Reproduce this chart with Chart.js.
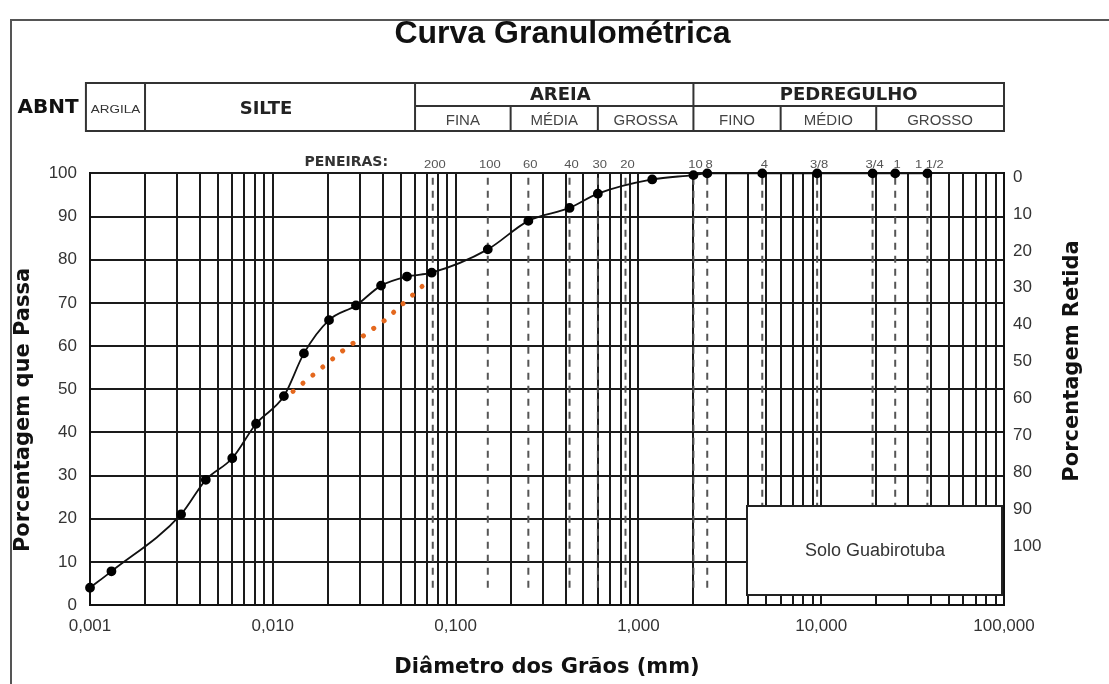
<!DOCTYPE html>
<html>
<head>
<meta charset="utf-8">
<title>Curva Granulométrica</title>
<script src="https://cdn.jsdelivr.net/npm/chart.js@4.4.1/dist/chart.umd.min.js"></script>
<style>
  html, body { margin: 0; padding: 0; background: #fff; }
  canvas { display: block; }
</style>
</head>
<body>
<canvas id="granChart" width="1109" height="684"></canvas>
<script>
// curva do Solo Guabirotuba (diametro em mm, % que passa)
const diametros = [0.001, 0.00131, 0.00315, 0.0043, 0.006, 0.0081, 0.0115, 0.0148, 0.0203, 0.0285,
                   0.0391, 0.0542, 0.074, 0.15, 0.25, 0.42, 0.6, 1.19, 2.0, 2.38, 4.76, 9.5, 19.1, 25.4, 38.1];
const passante = [4, 7.8, 21, 29, 34, 42, 48.4, 58.3, 66, 69.4,
                  74, 76.1, 77, 82.4, 89, 92, 95.3, 98.6, 99.6, 100, 100, 100, 100, 100, 100];

// trecho pontilhado (laranja)
const diametrosPontilhado = [0.0129, 0.0236, 0.0411, 0.0655];
const passantePontilhado = [49.5, 58.6, 66, 73.8];

// peneiras
const peneiras = ['200', '100', '60', '40', '30', '20', '10', '8', '4', '3/8', '3/4', '1', '1 1/2'];
const aberturas = [0.075, 0.15, 0.25, 0.42, 0.6, 0.85, 2.0, 2.38, 4.76, 9.5, 19.1, 25.4, 38.1];

// eixos
const decadas = [0.001, 0.01, 0.1, 1, 10, 100];
const rotulosX = ['0,001', '0,010', '0,100', '1,000', '10,000', '100,000'];
const ticksPassa = [0, 10, 20, 30, 40, 50, 60, 70, 80, 90, 100];
const ticksRetida = [0, 10, 20, 30, 40, 50, 60, 70, 80, 90, 100];

// classificacao ABNT
const classes = ['ARGILA', 'SILTE', 'AREIA', 'PEDREGULHO'];
const limitesClasses = [0.00095, 0.002, 0.06, 2, 100];
const subclasses = ['FINA', 'MÉDIA', 'GROSSA', 'FINO', 'MÉDIO', 'GROSSO'];
const limitesSub = [0.06, 0.2, 0.6, 2, 6, 20, 100];

const titulo = 'Curva Granulométrica';
const tituloX = 'Diâmetro dos Grãos (mm)';
const tituloY = 'Porcentagem que Passa';
const tituloY2 = 'Porcentagem Retida';
const nomeSolo = 'Solo Guabirotuba';

// linhas de grade 1..9 x 10^n
const linhasX = [];
for (let i = 0; i < decadas.length - 1; i++) {
    for (let k = 1; k <= 9; k++) linhasX.push(decadas[i] * k);
}
linhasX.push(decadas[decadas.length - 1]);

const VERDANA = "'DejaVu Sans', Verdana, sans-serif";
const ARIAL = "'Liberation Sans', Arial, sans-serif";

function textoEsticado(ctx, txt, x, y, fator) {
    ctx.save();
    ctx.translate(x, y);
    ctx.scale(fator, 1);
    ctx.fillText(txt, 0, 0);
    ctx.restore();
}

const desenhoExtra = {
    id: 'desenhoExtra',
    beforeDraw(chart) {
        const ctx = chart.ctx;
        ctx.save();
        ctx.strokeStyle = '#555';
        ctx.lineWidth = 2;
        ctx.beginPath();
        ctx.moveTo(11, chart.height);
        ctx.lineTo(11, 20);
        ctx.lineTo(chart.width, 20);
        ctx.stroke();
        ctx.restore();
    },
    beforeDatasetsDraw(chart) {
        const ctx = chart.ctx;
        const xs = chart.scales.x, ys = chart.scales.y;
        ctx.save();
        ctx.strokeStyle = '#555';
        ctx.lineWidth = 2;
        ctx.setLineDash([7, 6]);
        aberturas.forEach(a => {
            const px = xs.getPixelForValue(a);
            ctx.beginPath();
            ctx.moveTo(px, ys.getPixelForValue(99));
            ctx.lineTo(px, ys.getPixelForValue(3));
            ctx.stroke();
        });
        ctx.restore();
    },
    afterDraw(chart) {
        const ctx = chart.ctx;
        const xs = chart.scales.x;
        const area = chart.chartArea;
        const topo = 83, meio = 106, base = 131;
        ctx.save();

        // tabela ABNT
        ctx.strokeStyle = '#333';
        ctx.lineWidth = 2;
        const xl = limitesClasses.map(v => xs.getPixelForValue(v));
        const xsub = limitesSub.map(v => xs.getPixelForValue(v));
        ctx.strokeRect(xl[0], topo, xl[4] - xl[0], base - topo);
        ctx.beginPath();
        xl.slice(1, 4).forEach(px => { ctx.moveTo(px, topo); ctx.lineTo(px, base); });
        ctx.moveTo(xl[2], meio); ctx.lineTo(xl[4], meio);
        xsub.slice(1, 6).forEach(px => { ctx.moveTo(px, meio); ctx.lineTo(px, base); });
        ctx.stroke();

        ctx.textAlign = 'center';
        ctx.textBaseline = 'middle';
        ctx.fillStyle = '#111';
        ctx.font = 'bold 20px ' + VERDANA;
        ctx.fillText('ABNT', 48, 108);

        ctx.fillStyle = '#333';
        ctx.font = '10px ' + ARIAL;
        textoEsticado(ctx, classes[0], (xl[0] + xl[1]) / 2, 110, 1.35);

        ctx.fillStyle = '#222';
        ctx.font = 'bold 18px ' + VERDANA;
        ctx.fillText(classes[1], (xl[1] + xl[2]) / 2 - 14, 109);
        ctx.fillText(classes[2], (xl[2] + xl[3]) / 2 + 6, 95);
        ctx.fillText(classes[3], (xl[3] + xl[4]) / 2, 95);

        ctx.fillStyle = '#444';
        ctx.font = '15px ' + ARIAL;
        subclasses.forEach((s, i) => {
            ctx.fillText(s, (xsub[i] + xsub[i + 1]) / 2, 121);
        });

        // peneiras
        ctx.fillStyle = '#333';
        ctx.font = 'bold 14px ' + VERDANA;
        ctx.textAlign = 'right';
        ctx.fillText('PENEIRAS:', 388, 162);
        ctx.textAlign = 'center';
        ctx.fillStyle = '#555';
        ctx.font = '10px ' + ARIAL;
        peneiras.forEach((p, i) => {
            textoEsticado(ctx, p, xs.getPixelForValue(aberturas[i]) + 2, area.top - 8, 1.3);
        });

        // legenda
        ctx.fillStyle = '#fff';
        ctx.fillRect(747, 506, 255, 89);
        ctx.strokeStyle = '#222';
        ctx.lineWidth = 2;
        ctx.strokeRect(747, 506, 255, 89);
        ctx.fillStyle = '#333';
        ctx.font = '18px ' + ARIAL;
        ctx.fillText(nomeSolo, 875, 551);

        // titulos verticais
        ctx.fillStyle = '#111';
        ctx.font = 'bold 21px ' + VERDANA;
        ctx.save();
        ctx.translate(24, 410);
        ctx.rotate(-Math.PI / 2);
        ctx.fillText(tituloY, 0, 0);
        ctx.restore();
        ctx.save();
        ctx.translate(1073, 361);
        ctx.rotate(-Math.PI / 2);
        ctx.fillText(tituloY2, 0, 0);
        ctx.restore();

        ctx.restore();
    }
};

const curva = diametros.map((d, i) => ({ x: d, y: passante[i] }));
const pontilhado = diametrosPontilhado.map((d, i) => ({ x: d, y: passantePontilhado[i] }));

new Chart(document.getElementById('granChart'), {
    type: 'line',
    data: {
        datasets: [{
            label: nomeSolo,
            data: curva,
            borderColor: '#111',
            borderWidth: 1.8,
            pointRadius: 4,
            pointBackgroundColor: '#000',
            pointBorderColor: '#000',
            cubicInterpolationMode: 'monotone',
            clip: false
        }, {
            label: 'pontilhado',
            data: pontilhado,
            borderColor: '#E4681E',
            borderWidth: 5,
            borderDash: [0.1, 12.7],
            borderCapStyle: 'round',
            pointRadius: 0,
            tension: 0
        }]
    },
    options: {
        responsive: false,
        animation: false,
        layout: { padding: { left: 16 } },
        plugins: {
            legend: { display: false },
            tooltip: { enabled: false },
            title: {
                display: true,
                text: titulo,
                color: '#111',
                font: { family: ARIAL, size: 32, weight: 'bold' },
                padding: { top: 15, bottom: 120 }
            }
        },
        scales: {
            x: {
                type: 'logarithmic',
                position: 'bottom',
                min: 0.001,
                max: 100,
                afterFit: s => { s.height = 79; },
                afterBuildTicks: s => { s.ticks = linhasX.map(v => ({ value: v })); },
                ticks: {
                    autoSkip: false,
                    maxRotation: 0,
                    padding: 11,
                    color: '#333',
                    font: { family: ARIAL, size: 17 },
                    callback: v => {
                        const i = decadas.findIndex(d => Math.abs(d - v) / d < 1e-6);
                        return i >= 0 ? rotulosX[i] : '';
                    }
                },
                grid: { color: '#1a1a1a', lineWidth: 2, drawTicks: false },
                border: { color: '#111', width: 2 },
                title: {
                    display: true,
                    text: tituloX,
                    color: '#111',
                    font: { family: VERDANA, size: 21, weight: 'bold' },
                    padding: { top: 0, bottom: 4 }
                }
            },
            y: {
                type: 'linear',
                position: 'left',
                min: 0,
                max: 100,
                afterFit: s => { s.width = 74; },
                afterBuildTicks: s => { s.ticks = ticksPassa.map(v => ({ value: v })); },
                ticks: { padding: 13, color: '#333', font: { family: ARIAL, size: 17 } },
                grid: { color: '#1a1a1a', lineWidth: 2, drawTicks: false },
                border: { color: '#111', width: 2 }
            },
            y2: {
                type: 'linear',
                position: 'right',
                reverse: true,
                min: -1,
                max: 116,
                afterFit: s => { s.width = 105; },
                afterBuildTicks: s => { s.ticks = ticksRetida.map(v => ({ value: v })); },
                ticks: { padding: 9, color: '#333', font: { family: ARIAL, size: 17 } },
                grid: { drawOnChartArea: false, drawTicks: false },
                border: { color: '#111', width: 2 }
            }
        }
    },
    plugins: [desenhoExtra]
});
</script>
</body>
</html>
